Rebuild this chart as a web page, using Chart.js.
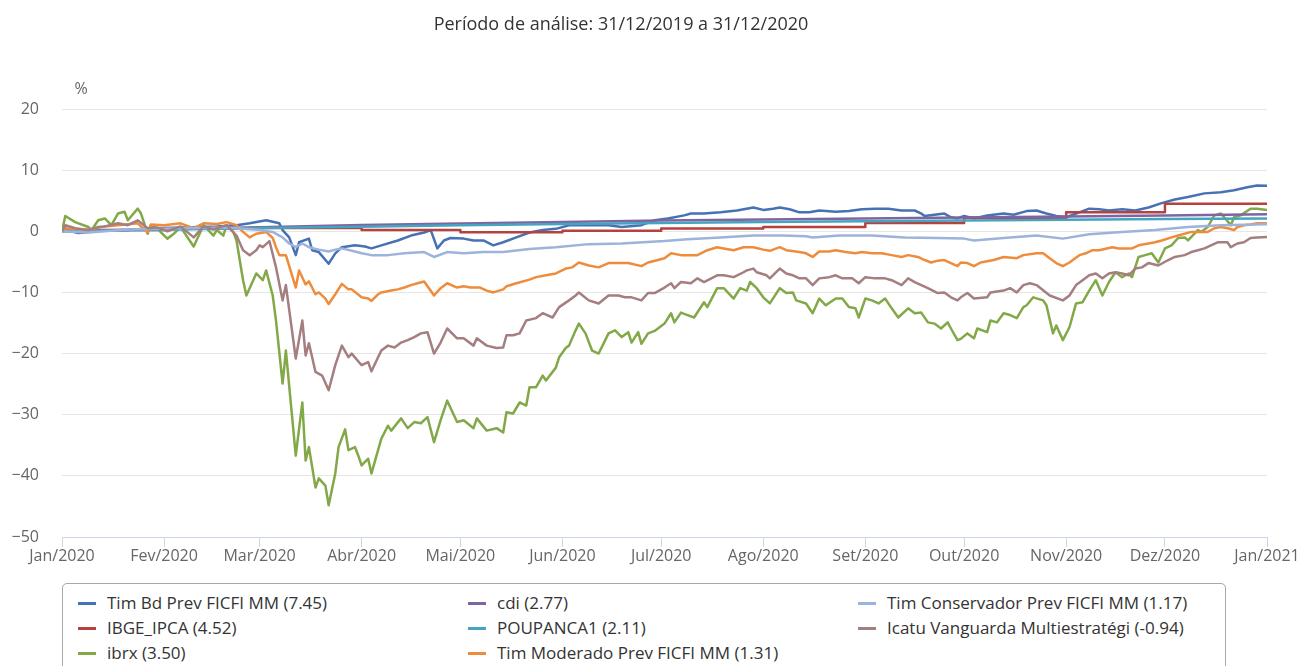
<!DOCTYPE html>
<html><head><meta charset="utf-8">
<script src="https://cdn.jsdelivr.net/npm/chart.js@4/dist/chart.umd.min.js"></script>
<style>
html,body{margin:0;padding:0;background:#fff;width:1306px;height:666px;overflow:hidden;font-family:'Open Sans',sans-serif;}
#wrap{position:absolute;left:0;top:0;width:1306px;height:580px;}
#legend{position:absolute;left:62px;top:583px;width:1164px;height:100px;border:1px solid #a8a8a8;border-radius:5px;box-sizing:border-box;}
.li{position:absolute;height:22px;line-height:22px;font-size:17px;color:#333;white-space:nowrap;}
.li i{position:absolute;left:0;top:10px;width:18px;height:3px;}
.li span{position:absolute;left:29px;top:0;}
</style></head><body>
<div id="wrap"><canvas id="c" width="1306" height="580"></canvas></div>
<div id="legend"></div>
<script>
const titleText = 'Período de análise: 31/12/2019 a 31/12/2020';
const unitLabel = '%';
const monthTickDays = [0,31,60,91,121,152,182,213,244,274,305,335,366];
const monthLabels = ['Jan/2020','Fev/2020','Mar/2020','Abr/2020','Mai/2020','Jun/2020','Jul/2020','Ago/2020','Set/2020','Out/2020','Nov/2020','Dez/2020','Jan/2021'];

const seriesNames = ['Tim Bd Prev FICFI MM (7.45)','IBGE_IPCA (4.52)','ibrx (3.50)','cdi (2.77)','POUPANCA1 (2.11)','Tim Moderado Prev FICFI MM (1.31)','Tim Conservador Prev FICFI MM (1.17)','Icatu Vanguarda Multiestratégi (-0.94)'];
const seriesColors = ['#4672b4','#b5423f','#82a848','#8064a2','#45a5c0','#ef8c3c','#9db3dc','#a57e80'];

// [day of year, % return]
const timBd = [[0,0],[1,0.2],[5,-0.3],[12,0.1],[20,0.2],[27,0.5],[37,0.6],[47,0.8],[53,1.0],[57,1.3],[62,1.8],[66,1.3],[67,0.2],[69,-1.0],[71,-3.9],[72,-1.8],[75,-1.2],[76,-3.1],[78,-3.4],[81,-5.3],[83,-3.6],[85,-2.6],[89,-2.3],[92,-2.5],[94,-2.8],[97,-2.3],[102,-1.5],[106,-0.7],[110,-0.2],[112,0.2],[114,-2.8],[116,-1.5],[118,-1.1],[122,-1.2],[125,-1.5],[128,-1.5],[131,-2.3],[134,-1.8],[138,-1.0],[142,-0.2],[146,0.2],[150,0.4],[154,1.0],[160,1.0],[166,1.0],[170,0.7],[176,1.0],[180,1.8],[184,2.1],[189,2.6],[191,2.9],[195,2.9],[200,3.1],[205,3.4],[210,3.9],[213,3.5],[216,3.7],[218,3.9],[221,3.6],[224,3.1],[227,3.1],[230,3.4],[235,3.2],[239,3.3],[243,3.6],[247,3.7],[251,3.7],[255,3.4],[259,3.4],[261,2.9],[262,2.5],[265,2.7],[268,2.9],[270,2.3],[272,2.1],[274,2.5],[277,2.1],[281,2.6],[286,2.9],[289,2.7],[293,3.3],[296,3.4],[299,2.9],[302,2.5],[305,2.3],[309,3.1],[312,3.7],[315,3.6],[318,3.4],[322,3.6],[326,3.4],[330,3.9],[334,4.6],[338,5.2],[342,5.6],[347,6.2],[352,6.4],[356,6.7],[360,7.2],[363,7.5],[366,7.45]];

const ipca = [[0,0.21],[31,0.46],[60,0.53],[91,0.22],[121,-0.16],[152,0.10],[182,0.46],[213,0.70],[244,1.34],[274,2.22],[305,3.13],[335,4.52],[366,4.52]];

const ibrx = [[0,0],[1,2.5],[4,1.5],[8,0.7],[9,0.2],[11,1.8],[13,2.1],[15,1.0],[17,2.9],[19,3.2],[20,1.8],[23,3.7],[24,2.9],[26,-0.4],[27,1.0],[29,0.4],[32,-1.2],[34,-0.4],[36,0.7],[38,-0.9],[40,-2.5],[43,1.0],[46,-0.7],[47,0.2],[49,-0.7],[50,1.0],[52,-0.1],[53,-1.5],[55,-8.0],[56,-10.5],[59,-6.9],[61,-8.0],[62,-6.4],[64,-10.5],[65,-14.6],[67,-24.9],[68,-19.5],[71,-36.7],[73,-28.0],[74,-37.5],[75,-35.3],[77,-41.9],[78,-40.4],[80,-41.6],[81,-44.8],[83,-39.6],[84,-35.3],[86,-32.4],[87,-35.8],[89,-35.3],[90,-36.7],[91,-38.3],[93,-37.2],[94,-39.6],[96,-35.8],[97,-33.9],[99,-31.8],[100,-32.6],[103,-30.6],[105,-32.2],[107,-31.2],[109,-31.4],[111,-30.4],[113,-34.5],[115,-30.9],[117,-27.7],[120,-31.2],[122,-30.9],[125,-32.2],[126,-30.6],[129,-32.6],[132,-32.2],[134,-32.9],[135,-29.6],[137,-29.8],[139,-28.0],[141,-28.5],[142,-25.5],[144,-25.5],[146,-23.6],[147,-24.4],[150,-22.3],[151,-20.6],[153,-19.1],[154,-18.7],[156,-16.2],[157,-15.1],[159,-16.7],[161,-19.5],[163,-20.0],[166,-16.7],[168,-16.2],[170,-17.3],[172,-16.5],[173,-18.2],[175,-16.5],[176,-18.4],[178,-16.7],[180,-16.3],[183,-15.1],[185,-13.4],[186,-14.9],[188,-13.3],[190,-13.7],[192,-14.1],[195,-11.6],[196,-12.4],[199,-9.3],[201,-9.3],[204,-11.0],[206,-9.3],[208,-9.7],[209,-8.3],[211,-9.3],[213,-10.8],[215,-11.8],[218,-9.3],[220,-10.1],[222,-10.0],[223,-11.3],[226,-11.8],[228,-13.4],[230,-11.0],[232,-12.1],[235,-11.0],[237,-11.0],[239,-12.4],[241,-12.6],[242,-14.1],[244,-11.0],[246,-11.3],[248,-11.8],[250,-11.0],[252,-12.6],[254,-14.1],[257,-12.6],[259,-13.4],[261,-13.3],[263,-14.9],[265,-15.1],[267,-15.9],[269,-14.9],[270,-15.9],[272,-17.8],[273,-17.6],[275,-16.7],[277,-17.5],[278,-15.9],[281,-16.5],[282,-14.6],[284,-14.9],[286,-13.4],[288,-13.7],[290,-14.2],[292,-12.4],[293,-12.1],[295,-10.8],[298,-11.3],[299,-12.1],[301,-16.7],[302,-15.4],[304,-17.8],[306,-15.7],[308,-11.8],[310,-11.6],[312,-9.7],[314,-8.0],[316,-10.5],[318,-8.3],[320,-6.7],[322,-7.5],[324,-6.9],[325,-7.5],[327,-4.2],[329,-3.9],[331,-3.6],[333,-5.1],[335,-2.8],[337,-2.3],[339,-1.1],[341,-1.0],[342,-1.5],[345,0.2],[346,-0.1],[348,0.7],[350,2.6],[352,2.9],[353,2.3],[355,1.0],[356,2.3],[358,2.6],[361,3.7],[363,3.7],[366,3.5]];

const cdi = [[0,0],[31,0.38],[60,0.67],[91,1.01],[121,1.29],[152,1.53],[182,1.75],[213,1.94],[244,2.10],[274,2.27],[305,2.43],[335,2.58],[366,2.77]];

const poupanca = [[0,0],[31,0.26],[60,0.52],[91,0.76],[121,0.98],[152,1.20],[182,1.37],[213,1.51],[244,1.64],[274,1.76],[305,1.89],[335,2.01],[366,2.11]];

const timModerado = [[0,0],[1,0.5],[8,0.2],[13,0.8],[17,1.0],[23,1.3],[26,-0.2],[27,1.1],[31,1.0],[36,1.3],[40,0.5],[43,1.3],[47,1.2],[50,1.5],[53,1.0],[55,-0.1],[57,-1.0],[59,-0.4],[62,-0.1],[64,-1.1],[65,-2.6],[66,-3.9],[68,-3.9],[71,-9.2],[72,-6.4],[74,-8.7],[75,-8.2],[77,-10.3],[78,-10.0],[80,-11.0],[81,-11.9],[83,-10.3],[85,-8.6],[87,-9.5],[88,-9.5],[91,-10.8],[93,-11.0],[94,-11.4],[96,-10.3],[97,-10.0],[100,-9.7],[102,-9.5],[104,-9.2],[106,-8.8],[108,-8.5],[110,-8.2],[113,-10.5],[115,-9.3],[117,-8.5],[120,-9.2],[122,-9.0],[124,-9.2],[127,-9.2],[129,-9.7],[131,-10.0],[134,-9.5],[135,-9.0],[138,-8.5],[142,-7.9],[144,-7.5],[147,-7.2],[150,-6.9],[153,-6.1],[155,-5.9],[157,-5.1],[160,-5.6],[163,-5.9],[166,-5.2],[169,-5.2],[172,-5.2],[176,-5.7],[178,-5.1],[181,-4.7],[183,-4.4],[185,-3.6],[188,-3.9],[193,-3.9],[196,-3.1],[199,-2.6],[201,-2.8],[204,-3.1],[207,-2.6],[210,-2.6],[213,-3.0],[215,-3.2],[218,-2.6],[220,-3.1],[224,-3.4],[226,-3.6],[228,-4.2],[230,-3.3],[233,-3.3],[235,-3.1],[238,-3.4],[241,-3.6],[243,-3.4],[246,-3.6],[249,-3.6],[252,-3.9],[255,-4.2],[257,-3.9],[260,-4.2],[262,-4.7],[264,-5.1],[266,-4.8],[268,-4.7],[270,-5.2],[272,-5.7],[273,-5.1],[275,-5.2],[277,-5.7],[279,-5.1],[283,-4.7],[286,-4.2],[290,-4.4],[292,-3.9],[296,-3.6],[298,-3.6],[300,-4.4],[302,-5.2],[304,-5.7],[306,-5.1],[309,-3.9],[311,-3.6],[313,-3.1],[315,-3.1],[319,-2.6],[321,-2.8],[325,-2.8],[327,-2.3],[330,-2.0],[332,-1.8],[334,-1.5],[337,-1.0],[339,-0.7],[343,-0.1],[346,-0.1],[348,-0.1],[350,0.5],[352,0.7],[354,0.5],[356,0.2],[357,0.7],[359,1.0],[361,1.1],[363,1.3],[366,1.31]];

const timConservador = [[0,0],[8,-0.2],[20,0.3],[36,0.5],[50,0.6],[55,0.4],[60,0.2],[64,-0.1],[66,-0.7],[67,-1.0],[69,-2.0],[71,-2.6],[73,-2.0],[75,-2.6],[78,-3.0],[81,-3.3],[83,-3.0],[85,-2.8],[89,-3.3],[91,-3.6],[94,-3.9],[99,-3.9],[104,-3.6],[110,-3.4],[113,-4.2],[117,-3.4],[122,-3.6],[128,-3.4],[134,-3.4],[142,-2.9],[150,-2.6],[160,-2.1],[170,-2.0],[183,-1.6],[190,-1.3],[200,-1.0],[210,-0.7],[219,-0.7],[226,-0.8],[228,-1.0],[236,-0.7],[246,-0.7],[256,-1.0],[266,-1.1],[274,-1.2],[277,-1.5],[286,-1.1],[296,-0.7],[304,-1.2],[312,-0.5],[322,-0.1],[332,0.2],[342,0.7],[352,1.0],[366,1.17]];

const icatu = [[0,0],[1,1.0],[4,0.5],[8,0.2],[11,0.7],[13,0.8],[17,1.3],[20,1.0],[23,1.8],[26,0.5],[29,0.6],[32,0.0],[36,0.8],[40,-1.0],[43,0.8],[46,0.3],[50,1.0],[53,-0.7],[55,-3.1],[57,-3.9],[59,-3.1],[60,-2.3],[61,-2.6],[63,-1.6],[65,-5.9],[67,-11.3],[68,-8.8],[71,-20.8],[73,-14.6],[74,-20.3],[75,-18.3],[77,-23.0],[79,-23.6],[81,-26.0],[83,-21.9],[85,-18.7],[87,-20.6],[88,-20.0],[91,-21.9],[93,-21.4],[94,-22.9],[96,-20.6],[97,-19.5],[99,-18.7],[101,-19.0],[103,-18.2],[105,-17.8],[107,-17.3],[109,-16.7],[111,-16.5],[113,-20.0],[115,-18.2],[117,-15.9],[120,-17.5],[122,-17.5],[125,-18.7],[126,-17.5],[129,-18.7],[132,-19.1],[134,-19.0],[135,-17.0],[137,-17.0],[139,-16.7],[141,-14.6],[144,-14.2],[146,-13.4],[149,-14.1],[151,-12.4],[154,-11.3],[156,-10.5],[157,-10.0],[160,-11.3],[163,-11.8],[166,-10.5],[169,-10.5],[171,-10.8],[173,-10.8],[176,-11.3],[178,-10.1],[180,-10.1],[183,-9.2],[185,-8.5],[186,-9.3],[188,-8.3],[191,-8.5],[193,-7.7],[195,-8.3],[199,-7.2],[201,-7.2],[204,-7.5],[207,-6.7],[208,-6.4],[210,-6.1],[211,-6.7],[214,-7.2],[215,-7.7],[218,-6.1],[220,-6.9],[222,-7.2],[224,-7.7],[226,-7.7],[228,-8.8],[230,-7.7],[233,-7.5],[235,-7.2],[237,-7.7],[240,-7.7],[242,-8.5],[244,-7.5],[247,-7.7],[250,-7.7],[252,-8.0],[255,-8.8],[257,-7.7],[259,-8.3],[261,-8.8],[263,-9.3],[266,-10.1],[268,-10.0],[270,-10.8],[272,-11.3],[273,-10.8],[275,-10.1],[277,-11.0],[281,-10.8],[282,-10.0],[286,-9.7],[288,-9.3],[290,-10.0],[292,-8.8],[294,-8.5],[296,-8.8],[300,-10.5],[304,-11.3],[306,-10.5],[308,-8.8],[310,-8.0],[312,-7.2],[314,-6.9],[316,-7.7],[318,-6.9],[320,-6.7],[322,-6.9],[324,-7.2],[326,-6.1],[328,-5.9],[330,-5.2],[333,-5.6],[336,-4.7],[338,-4.2],[341,-3.9],[343,-3.4],[345,-3.1],[347,-2.8],[349,-2.3],[351,-1.8],[354,-1.8],[355,-2.6],[357,-2.0],[359,-1.8],[361,-1.1],[363,-1.0],[366,-0.94]];

const seriesData = [timBd, ipca, ibrx, cdi, poupanca, timModerado, timConservador, icatu];
const steppedSeries = [false, true, false, false, false, false, false, false];

Chart.defaults.font.family = "'Open Sans', sans-serif";
Chart.defaults.font.size = 16;
Chart.defaults.color = '#666';

const textPlugin = {
  id: 'fixedTexts',
  afterDraw(chart) {
    const ctx = chart.ctx;
    ctx.save();
    ctx.textAlign = 'center';
    ctx.textBaseline = 'middle';
    ctx.font = "18px 'Open Sans', sans-serif";
    ctx.fillStyle = '#333';
    ctx.fillText(titleText, 621, 25);
    ctx.font = "16px 'Open Sans', sans-serif";
    ctx.fillStyle = '#666';
    ctx.fillText(unitLabel, 81, 89);
    ctx.restore();
  }
};

const datasets = seriesData.map((pts, i) => ({
  label: seriesNames[i],
  data: pts.map(p => ({x: p[0], y: p[1]})),
  borderColor: seriesColors[i],
  backgroundColor: seriesColors[i],
  borderWidth: 2.5,
  pointRadius: 0,
  tension: 0,
  fill: false,
  stepped: steppedSeries[i],
  borderJoinStyle: 'round',
  order: seriesData.length - 1 - i
}));

new Chart(document.getElementById('c'), {
  type: 'line',
  data: { datasets },
  options: {
    responsive: false,
    animation: false,
    devicePixelRatio: 1,
    layout: { padding: { top: 109, right: 39, bottom: 0, left: 0 } },
    plugins: { legend: { display: false }, tooltip: { enabled: false }, title: { display: false } },
    scales: {
      x: {
        type: 'linear',
        min: 0, max: 366,
        afterBuildTicks: s => { s.ticks = monthTickDays.map(v => ({ value: v })); },
        afterFit: s => { s.height = 43; },
        ticks: {
          autoSkip: false, maxRotation: 0, minRotation: 0, padding: 0, color: '#666',
          callback: (v, i) => monthLabels[i]
        },
        grid: { display: true, drawOnChartArea: false, drawTicks: true, tickLength: 10, color: '#ccd6eb', lineWidth: 1 },
        border: { display: true, color: '#ccd6eb', width: 1 }
      },
      y: {
        min: -50, max: 20,
        afterFit: s => { s.width = 62; },
        ticks: {
          stepSize: 10, padding: 23, color: '#666',
          callback: v => (v < 0 ? '\u2212' + Math.abs(v) : String(v))
        },
        grid: { color: '#e6e6e6', drawTicks: false, lineWidth: 1 },
        border: { display: false }
      }
    }
  },
  plugins: [textPlugin]
});

// HTML legend (column-major like the original)
const legend = document.getElementById('legend');
seriesNames.forEach((name, i) => {
  const col = Math.floor(i / 3), row = i % 3;
  const d = document.createElement('div');
  d.className = 'li';
  d.style.left = (15 + col * 390) + 'px';
  d.style.top = (8 + row * 25) + 'px';
  const ic = document.createElement('i');
  ic.style.background = seriesColors[i];
  const sp = document.createElement('span');
  sp.textContent = name;
  d.appendChild(ic); d.appendChild(sp);
  legend.appendChild(d);
});
</script></body></html>
